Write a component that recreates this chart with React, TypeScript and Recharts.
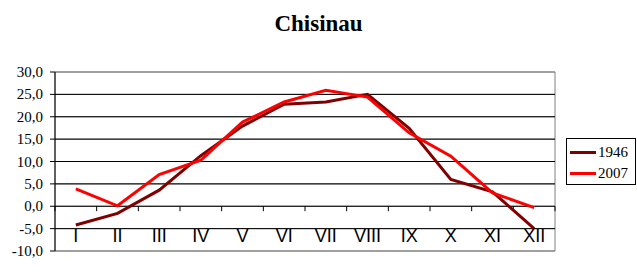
import { CartesianGrid, Line, LineChart, ReferenceArea, ReferenceLine, XAxis, YAxis } from "recharts";

const months = ["I", "II", "III", "IV", "V", "VI", "VII", "VIII", "IX", "X", "XI", "XII"];
const temps1946 = [-4.2, -1.6, 3.6, 11.3, 17.9, 22.8, 23.3, 25.0, 17.4, 6.0, 3.2, -5.0];
const temps2007 = [3.9, 0.1, 7.1, 10.3, 18.8, 23.3, 25.9, 24.4, 16.4, 11.2, 3.0, -0.3];
const yTicks = [-10, -5, 0, 5, 10, 15, 20, 25, 30];
const innerGrid = [-5, 0, 5, 10, 15, 20, 25];
const boundaries = [0, 1, 2, 3, 4, 5, 6, 7, 8, 9, 10, 11, 12];

// months sit in the middle of each category slot
const data = months.map((m, i) => ({ month: m, idx: i + 0.5, y1946: temps1946[i], y2007: temps2007[i] }));
const monthTicks = data.map((d) => d.idx);

const serif = "Liberation Serif, Times New Roman, serif";
const sans = "Liberation Sans, Arial, sans-serif";

const MonthTick = (props: any) => (
  <text x={props.x} y={props.y - 17} textAnchor="middle" fontFamily={sans} fontSize={18} fill="#000">
    {months[Math.floor(props.payload.value)]}
  </text>
);

const ValueTick = (props: any) => (
  <text x={props.x - 4} y={props.y + 5} textAnchor="end" fontFamily={serif} fontSize={15} fill="#000">
    {Number(props.payload.value).toFixed(1).replace(".", ",")}
  </text>
);

export default function App() {
  return (
    <div style={{ position: "absolute", left: 0, top: 0, width: 637, height: 272, background: "#fff" }}>
      <div
        style={{
          position: "absolute",
          left: 0,
          top: 11,
          width: 637,
          textAlign: "center",
          fontFamily: serif,
          fontWeight: "bold",
          fontSize: 23,
          lineHeight: "normal",
        }}
      >
        Chisinau
      </div>
      <LineChart width={637} height={272} data={data} margin={{ top: 72, right: 82, left: 0, bottom: 20 }}>
        <CartesianGrid stroke="#808080" vertical={false} />
        {innerGrid.map((v) => (
          <ReferenceLine key={v} y={v} stroke="#000" strokeWidth={1} />
        ))}
        <ReferenceArea x1={0} x2={12} y1={-10} y2={30} stroke="#808080" fill="none" />
        {boundaries.map((b) => (
          <ReferenceLine
            key={"t" + b}
            segment={[
              { x: b, y: 0 },
              { x: b, y: -1.1 },
            ]}
            stroke="#000"
          />
        ))}
        <XAxis
          type="number"
          dataKey="idx"
          domain={[0, 12]}
          ticks={monthTicks}
          interval={0}
          height={1}
          axisLine={false}
          tickLine={false}
          tick={MonthTick}
        />
        <YAxis
          domain={[-10, 30]}
          ticks={yTicks}
          width={55}
          interval={0}
          axisLine={{ stroke: "#000" }}
          tickLine={{ stroke: "#000" }}
          tickSize={5}
          tickMargin={3}
          tick={ValueTick}
        />
        <Line dataKey="y1946" stroke="#800000" strokeWidth={3} dot={false} isAnimationActive={false} />
        <Line dataKey="y2007" stroke="#ff0000" strokeWidth={3} dot={false} isAnimationActive={false} />
      </LineChart>
      <div
        style={{
          position: "absolute",
          left: 566,
          top: 138,
          width: 70,
          height: 47,
          border: "1px solid #000",
          boxSizing: "border-box",
          fontFamily: serif,
          fontSize: 15,
        }}
      >
        {[
          { name: "1946", color: "#800000" },
          { name: "2007", color: "#ff0000" },
        ].map((s, i) => (
          <div key={s.name} style={{ position: "absolute", left: 3, top: 5 + i * 21, display: "flex", alignItems: "center", height: 17 }}>
            <span style={{ display: "inline-block", width: 26, height: 3, background: s.color, marginRight: 2 }} />
            <span>{s.name}</span>
          </div>
        ))}
      </div>
    </div>
  );
}
